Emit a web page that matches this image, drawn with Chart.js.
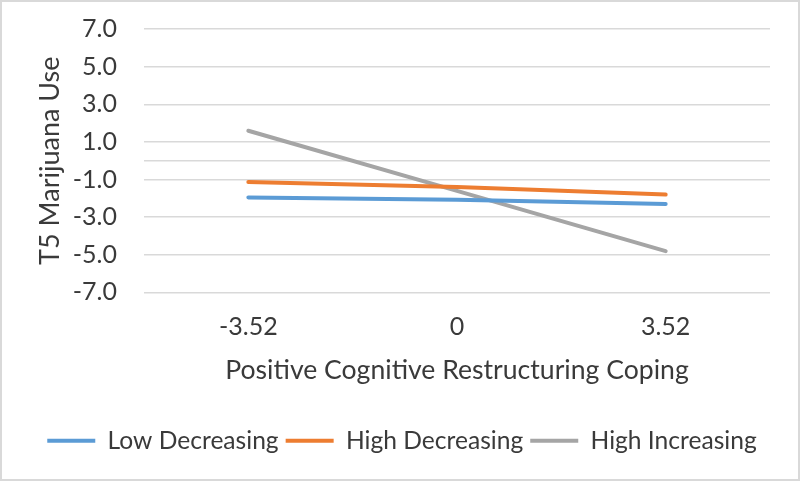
<!DOCTYPE html>
<html>
<head>
<meta charset="utf-8">
<script src="https://cdn.jsdelivr.net/npm/chart.js@4.4.1/dist/chart.umd.min.js"></script>
<style>
  html, body { margin: 0; padding: 0; background: #ffffff; }
  #wrap { width: 800px; height: 481px; box-sizing: border-box; border: 2px solid #d9d9d9; background: #fff; }
  canvas { display: block; }
</style>
</head>
<body>
<div id="wrap"><canvas id="c" width="796" height="477"></canvas></div>
<script>
const categories = ['-3.52', '0', '3.52'];
const lowDecreasing = [-1.95, -2.08, -2.30];
const highDecreasing = [-1.13, -1.40, -1.80];
const highIncreasing = [1.59, -1.60, -4.81];
const yTicks = [-7, -5, -3, -1, 0, 1, 3, 5, 7];
const seriesNames = ['Low Decreasing', 'High Decreasing', 'High Increasing'];

const FONT = 'Lato, "Open Sans", sans-serif';
const TXT = '#3a3a3a';
const GRID = '#d9d9d9';

function ds(label, data, color) {
  return {
    label, data,
    borderColor: color, backgroundColor: color,
    borderWidth: 4, borderCapStyle: 'round', borderJoinStyle: 'round',
    pointRadius: 0, pointHoverRadius: 0, tension: 0, fill: false
  };
}

new Chart(document.getElementById('c'), {
  type: 'line',
  data: {
    labels: categories,
    datasets: [
      ds(seriesNames[0], lowDecreasing, '#5b9bd5'),
      ds(seriesNames[1], highDecreasing, '#ed7d31'),
      ds(seriesNames[2], highIncreasing, '#a5a5a5')
    ]
  },
  options: {
    responsive: false,
    animation: false,
    layout: { padding: { left: 32, right: 28, top: 27, bottom: 16 } },
    plugins: {
      tooltip: { enabled: false },
      legend: {
        position: 'bottom',
        labels: {
          color: TXT,
          font: { family: FONT, size: 24.6 },
          boxWidth: 48,
          boxHeight: 4,
          padding: 7,
          generateLabels(chart) {
            return chart.data.datasets.map((d, i) => ({
              text: d.label, fillStyle: d.borderColor, strokeStyle: d.borderColor,
              lineWidth: 0, hidden: false, datasetIndex: i, fontColor: TXT
            }));
          }
        }
      }
    },
    scales: {
      x: {
        offset: true,
        grid: { display: false, drawTicks: false },
        border: { display: false },
        ticks: { color: TXT, font: { family: FONT, size: 25 }, padding: 20, maxRotation: 0, autoSkip: false },
        title: { display: true, text: 'Positive Cognitive Restructuring Coping', color: TXT, font: { family: FONT, size: 26.6 }, padding: { top: 0, bottom: 35 } },
        afterFit(s) { s.height = 129; }
      },
      y: {
        min: -7, max: 7,
        afterBuildTicks(s) { s.ticks = yTicks.map(v => ({ value: v })); },
        grid: { color: GRID, lineWidth: 1.5, drawTicks: true, tickLength: 27, tickColor: 'rgba(0,0,0,0)' },
        border: { display: false },
        ticks: {
          color: TXT, font: { family: FONT, size: 25 }, padding: 0, autoSkip: false,
          callback: v => (v === 0 ? '' : v.toFixed(1))
        },
        title: { display: true, text: 'T5 Marijuana Use', color: TXT, font: { family: FONT, size: 27 }, padding: 0 },
        afterFit(s) { s.width = 110; }
      }
    }
  }
});
</script>
</body>
</html>
